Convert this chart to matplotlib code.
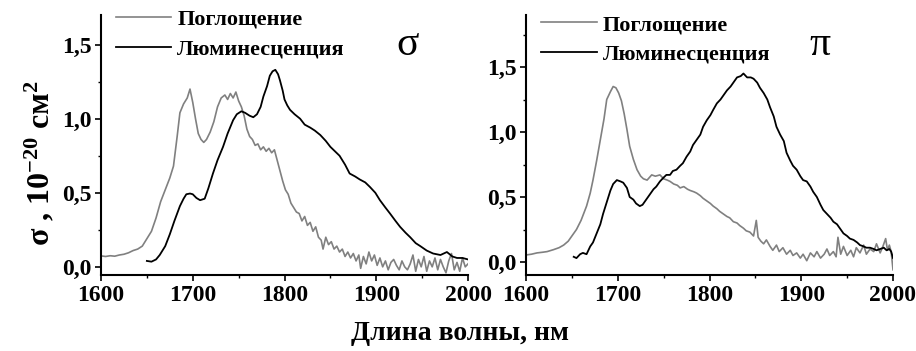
import matplotlib
matplotlib.use("Agg")
import matplotlib.pyplot as plt
from matplotlib.ticker import MultipleLocator

plt.rcParams['font.family'] = ['Liberation Serif', 'DejaVu Serif']
plt.rcParams['font.weight'] = 'bold'
plt.rcParams['mathtext.fontset'] = 'custom'
plt.rcParams['mathtext.rm'] = 'Liberation Serif:bold'
plt.rcParams['mathtext.bf'] = 'Liberation Serif:bold'
plt.rcParams['mathtext.it'] = 'Liberation Serif:bold'

# ---- sigma panel ----
sig_abs_wl = [1600, 1605, 1610, 1615, 1620, 1625, 1630, 1635, 1640, 1645, 1650, 1655, 1660, 1665,
              1670, 1675, 1679, 1683, 1686, 1690, 1694, 1697, 1700, 1703, 1706, 1709, 1712, 1715,
              1719, 1723, 1727, 1731, 1735, 1738, 1741, 1744, 1747, 1750, 1753, 1756, 1759, 1762,
              1765, 1768, 1771, 1774, 1777, 1780, 1783, 1786, 1789, 1792, 1795, 1798, 1801, 1804,
              1807, 1810, 1813, 1816, 1819, 1822, 1825, 1828, 1831, 1834, 1837, 1840, 1842, 1845,
              1848, 1851, 1854, 1857, 1860, 1863, 1866, 1869, 1872, 1875, 1878, 1881, 1883, 1886,
              1889, 1892, 1895, 1898, 1901, 1904, 1907, 1910, 1913, 1916, 1919, 1922, 1925, 1928,
              1931, 1934, 1937, 1940, 1943, 1946, 1949, 1952, 1955, 1958, 1961, 1964, 1967, 1970,
              1973, 1976, 1979, 1982, 1985, 1988, 1991, 1994, 1997, 2000]
sig_abs = [0.074, 0.070, 0.075, 0.072, 0.080, 0.085, 0.095, 0.110, 0.120, 0.140, 0.190, 0.240, 0.330, 0.440,
           0.520, 0.600, 0.680, 0.880, 1.040, 1.100, 1.140, 1.200, 1.110, 1.000, 0.900, 0.860, 0.840, 0.860,
           0.910, 0.980, 1.080, 1.140, 1.160, 1.130, 1.170, 1.140, 1.180, 1.120, 1.080, 1.020, 0.930, 0.880,
           0.860, 0.820, 0.830, 0.790, 0.810, 0.780, 0.800, 0.770, 0.790, 0.720, 0.650, 0.580, 0.520, 0.490,
           0.430, 0.400, 0.370, 0.360, 0.310, 0.340, 0.280, 0.300, 0.240, 0.270, 0.200, 0.180, 0.120, 0.200,
           0.150, 0.170, 0.120, 0.140, 0.100, 0.120, 0.070, 0.100, 0.060, 0.090, 0.040, 0.080, -0.010, 0.070,
           0.020, 0.100, 0.040, 0.080, 0.010, 0.060, 0.000, 0.040, -0.020, 0.030, 0.050, 0.010, -0.020, 0.040,
           0.000, -0.020, 0.020, 0.080, -0.030, 0.050, 0.000, 0.070, -0.030, 0.040, 0.000, 0.060, -0.020, 0.050,
           0.000, -0.040, 0.040, 0.090, -0.020, 0.030, -0.030, 0.060, 0.000, 0.020]

sig_lum_wl = [1650, 1655, 1660, 1664, 1670, 1675, 1680, 1686, 1690, 1693, 1697, 1700, 1704, 1708, 1713,
              1717, 1722, 1727, 1733, 1738, 1744, 1748, 1753, 1757, 1762, 1766, 1770, 1774, 1777, 1781,
              1784, 1787, 1790, 1793, 1795, 1798, 1800, 1803, 1806, 1811, 1817, 1822, 1828, 1833, 1839,
              1845, 1850, 1855, 1860, 1866, 1871, 1877, 1882, 1888, 1893, 1899, 1904, 1910, 1915, 1921,
              1926, 1932, 1937, 1943, 1948, 1955, 1962, 1970, 1977, 1983, 1988, 1994, 2000]
sig_lum = [0.040, 0.035, 0.050, 0.080, 0.140, 0.220, 0.310, 0.410, 0.460, 0.490, 0.495, 0.490, 0.465, 0.450, 0.460,
           0.530, 0.630, 0.720, 0.810, 0.900, 0.990, 1.030, 1.050, 1.040, 1.020, 1.010, 1.030, 1.080, 1.150, 1.220,
           1.290, 1.320, 1.330, 1.300, 1.260, 1.190, 1.130, 1.090, 1.060, 1.030, 1.000, 0.960, 0.940, 0.920, 0.890,
           0.850, 0.810, 0.780, 0.750, 0.690, 0.630, 0.610, 0.590, 0.570, 0.540, 0.500, 0.450, 0.400, 0.360, 0.310,
           0.270, 0.230, 0.200, 0.160, 0.140, 0.110, 0.090, 0.080, 0.100, 0.070, 0.060, 0.060, 0.050]

# ---- pi panel ----
pi_abs_wl = [1600, 1606, 1612, 1618, 1623, 1630, 1636, 1641, 1646, 1650, 1655, 1660, 1666, 1670, 1673,
             1677, 1681, 1685, 1688, 1692, 1695, 1698, 1701, 1704, 1707, 1710, 1713, 1717, 1721, 1725,
             1728, 1732, 1737, 1741, 1746, 1750, 1754, 1757, 1761, 1765, 1768, 1772, 1776, 1779, 1783,
             1786, 1790, 1793, 1797, 1801, 1804, 1808, 1811, 1815, 1819, 1822, 1826, 1830, 1833, 1837,
             1840, 1844, 1848, 1851, 1853, 1856, 1859, 1862, 1866, 1869, 1873, 1876, 1880, 1884, 1888,
             1891, 1895, 1899, 1902, 1906, 1910, 1914, 1917, 1921, 1925, 1928, 1931, 1935, 1938, 1940,
             1943, 1946, 1950, 1954, 1957, 1960, 1964, 1968, 1971, 1975, 1979, 1982, 1986, 1989, 1992,
             1994, 1996, 1998, 2000]
pi_abs = [0.054, 0.060, 0.070, 0.075, 0.080, 0.095, 0.110, 0.130, 0.160, 0.200, 0.250, 0.320, 0.430, 0.530, 0.630,
          0.780, 0.940, 1.100, 1.250, 1.310, 1.350, 1.340, 1.300, 1.240, 1.140, 1.020, 0.890, 0.790, 0.710, 0.660,
          0.640, 0.630, 0.670, 0.660, 0.670, 0.640, 0.630, 0.620, 0.600, 0.590, 0.570, 0.580, 0.560, 0.550, 0.540,
          0.530, 0.510, 0.490, 0.470, 0.450, 0.430, 0.410, 0.390, 0.370, 0.350, 0.340, 0.310, 0.300, 0.280, 0.260,
          0.240, 0.230, 0.200, 0.320, 0.190, 0.160, 0.140, 0.170, 0.120, 0.090, 0.130, 0.080, 0.110, 0.060, 0.090,
          0.050, 0.070, 0.030, 0.060, 0.010, 0.070, 0.040, 0.080, 0.030, 0.060, 0.100, 0.050, 0.080, 0.040, 0.190,
          0.060, 0.120, 0.050, 0.090, 0.040, 0.110, 0.070, 0.130, 0.060, 0.100, 0.080, 0.140, 0.070, 0.120, 0.180,
          0.090, 0.130, 0.080, -0.060]

pi_lum_wl = [1652, 1655, 1659, 1662, 1666, 1670, 1673, 1677, 1681, 1684, 1688, 1692, 1695, 1699, 1703,
             1706, 1710, 1713, 1717, 1720, 1724, 1727, 1731, 1735, 1739, 1742, 1746, 1750, 1753, 1757,
             1760, 1764, 1768, 1771, 1775, 1779, 1782, 1786, 1790, 1793, 1797, 1801, 1804, 1808, 1812,
             1815, 1819, 1823, 1826, 1830, 1834, 1837, 1841, 1845, 1848, 1852, 1855, 1859, 1863, 1866,
             1870, 1873, 1877, 1881, 1884, 1888, 1891, 1895, 1899, 1902, 1906, 1910, 1913, 1917, 1921,
             1924, 1928, 1932, 1935, 1939, 1943, 1946, 1950, 1953, 1957, 1961, 1964, 1968, 1971, 1975,
             1979, 1982, 1986, 1990, 1993, 1996, 1998, 2000]
pi_lum = [0.040, 0.030, 0.060, 0.070, 0.060, 0.120, 0.150, 0.220, 0.290, 0.370, 0.460, 0.550, 0.600, 0.630, 0.620,
          0.610, 0.570, 0.500, 0.480, 0.450, 0.430, 0.440, 0.480, 0.520, 0.560, 0.580, 0.620, 0.650, 0.670, 0.670,
          0.700, 0.710, 0.740, 0.760, 0.810, 0.850, 0.900, 0.940, 0.980, 1.040, 1.090, 1.130, 1.170, 1.220, 1.250,
          1.280, 1.320, 1.350, 1.380, 1.420, 1.430, 1.450, 1.420, 1.420, 1.410, 1.380, 1.340, 1.300, 1.250, 1.190,
          1.120, 1.040, 0.980, 0.930, 0.840, 0.780, 0.740, 0.710, 0.660, 0.630, 0.620, 0.580, 0.540, 0.500, 0.440,
          0.400, 0.370, 0.340, 0.310, 0.290, 0.250, 0.220, 0.200, 0.180, 0.170, 0.150, 0.130, 0.120, 0.110, 0.110,
          0.100, 0.090, 0.100, 0.110, 0.090, 0.100, 0.080, 0.030]

labels = ["Поглощение", "Люминесценция"]
x_ticks = [1600, 1700, 1800, 1900, 2000]
y_ticks = [0.0, 0.5, 1.0, 1.5]
y_tick_labels = ["0,0", "0,5", "1,0", "1,5"]
panel_symbols = ["σ", "π"]

W, H = 916, 351
fig = plt.figure(figsize=(W / 100, H / 100), dpi=100)
ax1 = fig.add_axes([101 / W, 76 / H, 367 / W, 260 / H])
ax2 = fig.add_axes([526 / W, 76 / H, 367 / W, 260 / H])

gray = '#808080'
panels = [
    (ax1, sig_abs_wl, sig_abs, sig_lum_wl, sig_lum, (-0.055, 1.70), (0.040, 1.022), (0.835, 0.885)),
    (ax2, pi_abs_wl, pi_abs, pi_lum_wl, pi_lum, (-0.1, 1.9), (0.042, 1.002), (0.80, 0.885)),
]
for i, (ax, awl, a, lwl, l, ylim, legpos, sympos) in enumerate(panels):
    ax.plot(awl, a, color=gray, lw=1.2, label=labels[0])
    ax.plot(lwl, l, color='black', lw=1.3, label=labels[1])
    ax.set_xlim(1600, 2000)
    ax.set_ylim(*ylim)
    ax.set_xticks(x_ticks)
    ax.set_yticks(y_ticks)
    ax.set_yticklabels(y_tick_labels)
    ax.xaxis.set_minor_locator(MultipleLocator(50))
    ax.yaxis.set_minor_locator(MultipleLocator(0.25))
    for s in ['top', 'right']:
        ax.spines[s].set_visible(False)
    for s in ['left', 'bottom']:
        ax.spines[s].set_linewidth(1.5)
    ax.tick_params(which='major', direction='out', length=4, width=1.2, labelsize=17, pad=3)
    ax.tick_params(which='minor', direction='out', length=2.5, width=1.0)
    for t in ax.get_xticklabels() + ax.get_yticklabels():
        t.set_fontweight('bold')
    ax.legend(loc='upper left', bbox_to_anchor=legpos, frameon=False, borderpad=0, borderaxespad=0,
              handlelength=2.5, handletextpad=0.27, labelspacing=0.4,
              prop={'family': 'Liberation Serif', 'weight': 'bold', 'size': 16})
    ax.text(sympos[0], sympos[1], panel_symbols[i], transform=ax.transAxes, fontsize=30,
            fontweight='normal', ha='center', va='center')

fig.text(40 / W, 1 - 163 / H, "σ , 10$^{-20}$ см$^{2}$", rotation=90, fontsize=23,
         fontweight='bold', ha='center', va='center')
fig.text(460 / W, 1 - 333 / H, "Длина волны, нм", fontsize=20, fontweight='bold', ha='center', va='center')

fig.savefig("out.png", dpi=100)
